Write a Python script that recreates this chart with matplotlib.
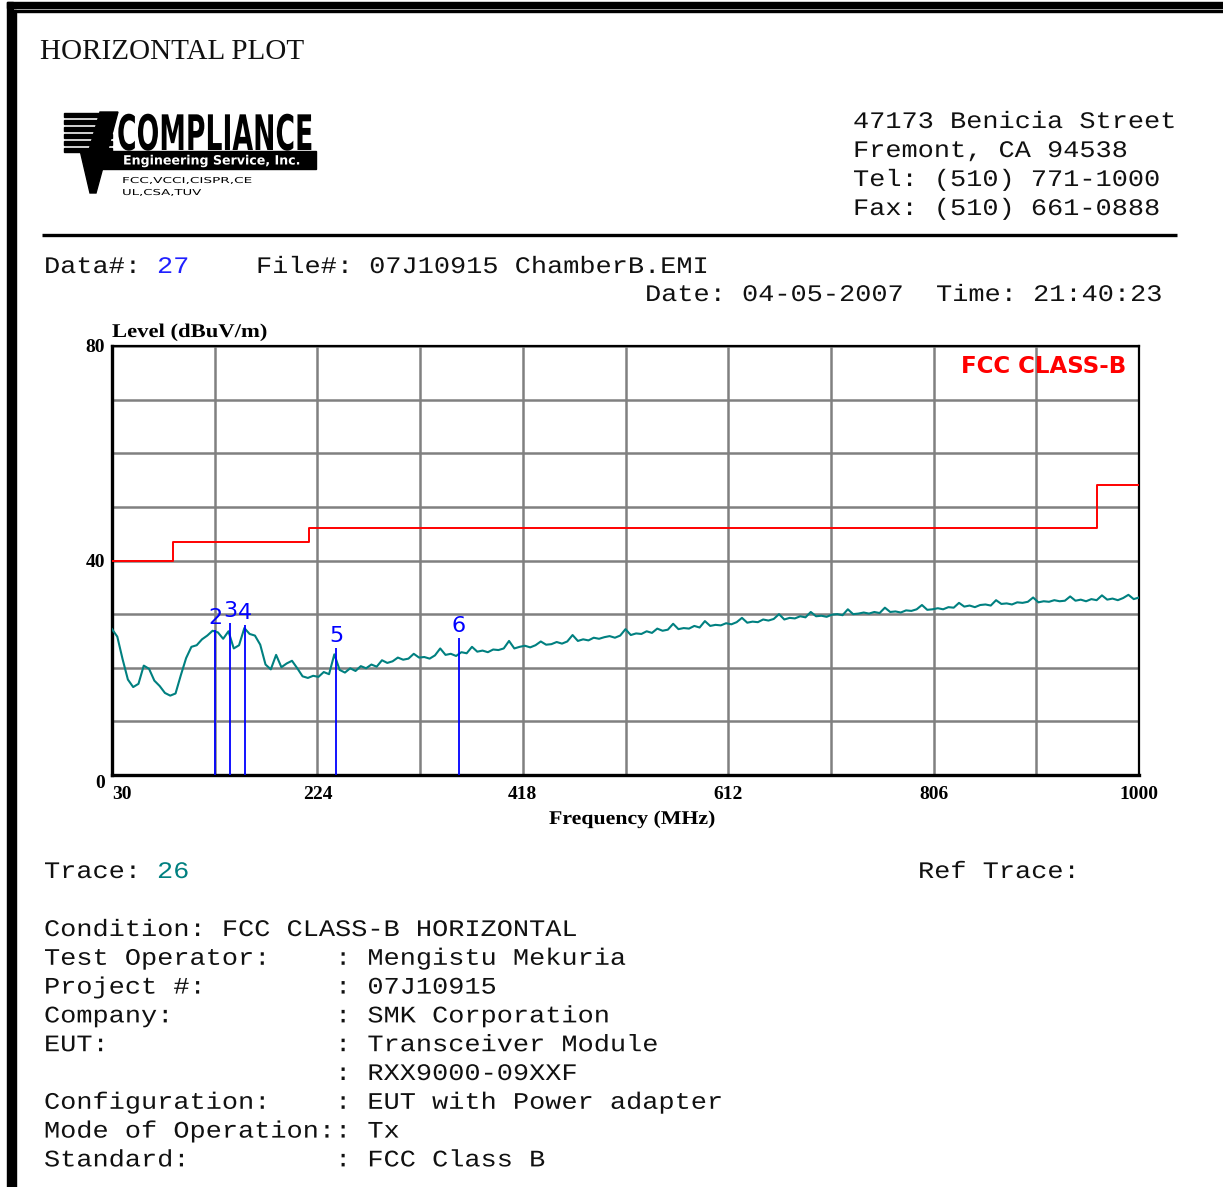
import numpy as np
import matplotlib
matplotlib.use("Agg")
import matplotlib.pyplot as plt
from matplotlib.textpath import TextPath
from matplotlib.font_manager import FontProperties
from matplotlib.patches import Polygon, Rectangle
from matplotlib.patheffects import AbstractPathEffect
from matplotlib.transforms import Affine2D

W, H, DPI = 1223, 1187, 100

# ---------------- data ----------------
freq_start, freq_stop, freq_step = 30, 1000, 5
trace_level = [
    27.2, 25.8, 21.6, 17.8, 16.4, 17.0, 20.4, 19.8, 17.6, 16.6,
    15.3, 14.8, 15.2, 18.6, 21.8, 23.9, 24.2, 25.3, 26.0, 26.9,
    26.6, 25.4, 26.8, 23.6, 24.2, 27.4, 26.3, 26.0, 24.3, 20.6,
    19.7, 22.4, 20.1, 20.8, 21.3, 19.9, 18.4, 18.1, 18.5, 18.3,
    19.2, 18.8, 22.5, 19.6, 19.1, 19.9, 19.4, 20.3, 19.9, 20.6,
    20.2, 21.4, 20.9, 21.2,
    21.9, 21.5, 21.7, 22.6, 21.9, 22.0, 21.7, 22.3, 23.6, 22.4,
    22.6, 22.2, 22.9, 22.7, 23.9, 23.0, 23.2, 22.9, 23.4, 23.3,
    23.6, 25.0, 23.6, 23.9, 24.1, 23.8, 24.2, 24.9, 24.3, 24.4,
    24.8, 24.5, 24.9, 26.1, 25.0, 25.3, 25.1, 25.6, 25.4, 25.7,
    25.9, 25.6, 26.0, 27.2, 26.1, 26.4, 26.3, 26.8, 26.5, 27.3,
    26.9, 27.1, 28.2, 27.2, 27.4, 27.3, 27.8, 27.5, 28.7, 27.8,
    28.0, 27.9, 28.3, 28.1, 28.5, 29.3, 28.4, 28.6, 28.5, 29.0,
    28.8, 29.1, 30.0, 29.0, 29.3, 29.2, 29.6, 29.4, 30.4, 29.6,
    29.7, 29.5, 29.9, 30.0, 29.8, 30.9, 30.0, 30.1, 30.3, 30.1,
    30.4, 30.2, 31.2, 30.4, 30.5, 30.3, 30.7, 30.6, 30.9, 31.7,
    30.8, 30.9, 31.1, 30.9, 31.3, 31.2, 32.1, 31.4, 31.6, 31.3,
    31.7, 31.8, 31.6, 32.6, 31.9, 32.0, 31.8, 32.2, 32.1, 32.3,
    33.1, 32.2, 32.4, 32.3, 32.6, 32.4, 32.5, 33.3, 32.5, 32.7,
    32.4, 32.8, 32.6, 33.5, 32.7, 32.9, 32.6, 33.0, 33.6, 32.8,
    33.1,
]
trace_freq = np.arange(freq_start, freq_stop + 1, freq_step)

limit_freq = [30, 88, 88, 216, 216, 960, 960, 1000]
limit_level = [40, 40, 43.5, 43.5, 46, 46, 54, 54]

marker_labels = ["2", "3", "4", "5", "6"]
marker_freq = [127.3, 141.4, 155.6, 241.6, 357.7]
marker_level = [27.0, 28.3, 28.0, 23.7, 25.5]

x_ticks = [30, 224, 418, 612, 806, 1000]
x_grid = [30, 127, 224, 321, 418, 515, 612, 709, 806, 903, 1000]
y_ticks = [0, 40, 80]
y_grid = [0, 10, 20, 30, 40, 50, 60, 70, 80]

address_lines = ["47173 Benicia Street", "Fremont, CA 94538",
                 "Tel: (510) 771-1000", "Fax: (510) 661-0888"]
info_lines = [
    "Condition: FCC CLASS-B HORIZONTAL",
    "Test Operator:    : Mengistu Mekuria",
    "Project #:        : 07J10915",
    "Company:          : SMK Corporation",
    "EUT:              : Transceiver Module",
    "                  : RXX9000-09XXF",
    "Configuration:    : EUT with Power adapter",
    "Mode of Operation:: Tx",
    "Standard:         : FCC Class B",
]


class Stretch(AbstractPathEffect):
    """Stretch a text about its baseline-left anchor."""
    def __init__(self, sx=1.0, sy=1.0):
        super().__init__()
        self.sx, self.sy = sx, sy

    def draw_path(self, renderer, gc, tpath, affine, rgbFace=None):
        ox, oy = affine.transform(np.array([0.0, 0.0]))
        a = affine + Affine2D().translate(-ox, -oy).scale(self.sx, self.sy).translate(ox, oy)
        renderer.draw_path(gc, tpath, a, rgbFace)


def ink_px(s, size, family, weight):
    tp = TextPath((0, 0), s, size=size, prop=FontProperties(family=family, weight=weight))
    e = tp.get_extents()
    return e.width * DPI / 72.0, e.height * DPI / 72.0


def fit_stretch(s, size, family, weight, w_px=None, h_px=None):
    w, h = ink_px(s, size, family, weight)
    sx = w_px / w if w_px else 1.0
    sy = h_px / h if h_px else 1.0
    return Stretch(sx, sy)


MONO = "Liberation Mono"
MS = 19.4
MONO_FX = [Stretch(1.0, 0.88)]
TXT = "#111111"

fig = plt.figure(figsize=(W / DPI, H / DPI), dpi=DPI)
fig.patch.set_facecolor("white")

# ---------------- chart ----------------
ax = fig.add_axes([112 / W, 1 - 775 / H, 1027 / W, 429 / H])
ax.set_xlim(30, 1000)
ax.set_ylim(0, 80)
ax.set_xticks(x_ticks)
ax.set_xticklabels([str(v) for v in x_ticks])
ax.set_xticks(x_grid, minor=True)
ax.set_yticks(y_ticks)
ax.set_yticklabels([str(v) for v in y_ticks])
ax.set_yticks(y_grid, minor=True)
ax.grid(which="both", color="#808080", lw=1.8)
ax.set_axisbelow(True)
ax.tick_params(which="both", length=0)
ax.tick_params(axis="x", pad=8)
ax.tick_params(axis="y", pad=5)
for lbl in ax.get_xticklabels() + ax.get_yticklabels():
    lbl.set_fontfamily("Liberation Serif")
    lbl.set_fontweight("bold")
    lbl.set_fontsize(14)
ax.get_xticklabels()[0].set_horizontalalignment("left")
ax.get_yticklabels()[0].set_verticalalignment("top")
for side, lw in [("left", 2.4), ("bottom", 2.4), ("top", 1.6), ("right", 1.6)]:
    ax.spines[side].set_linewidth(lw)
    ax.spines[side].set_color("black")

ax.plot(limit_freq, limit_level, color="#ff0000", lw=1.4, zorder=3)
ax.plot(trace_freq, trace_level, color="#008080", lw=1.5, zorder=4)
ax.vlines(marker_freq, 0, marker_level, colors="#0000ff", lw=1.3, zorder=5)
for lab, f, lv in zip(marker_labels, marker_freq, marker_level):
    ax.annotate(lab, xy=(f, lv), xytext=(0, 1.5), textcoords="offset points",
                ha="center", va="bottom", color="#0000ff", fontsize=16,
                family="DejaVu Sans", zorder=6)
ax.text(0.988, 0.953, "FCC CLASS-B", transform=ax.transAxes, ha="right", va="center",
        color="#ff0000", fontsize=16.5, fontweight="bold", family="DejaVu Sans")

# ---------------- page overlay (pixel coordinates) ----------------
ov = fig.add_axes([0, 0, 1, 1], zorder=-1)
ov.set_xlim(0, W)
ov.set_ylim(H, 0)
ov.axis("off")

# borders
ov.add_patch(Rectangle((7, 2), W - 7, 6, color="black"))
ov.add_patch(Rectangle((14, 10), W - 14, 2.2, color="black"))
ov.add_patch(Rectangle((7, 2), 6, H, color="black"))
ov.add_patch(Rectangle((14, 10), 2.2, H, color="black"))

ov.text(40, 59, "HORIZONTAL PLOT", family="Liberation Serif", fontsize=21,
        ha="left", va="baseline", color=TXT)

# logo
for y in [113, 120, 127, 134, 141, 148]:
    ov.add_patch(Rectangle((64, y), 48, 4, color="black"))
ov.add_patch(Polygon([(100, 112), (118, 112), (96, 193), (90, 193), (80, 150), (89, 150)],
                     closed=True, color="black"))
ov.add_patch(Rectangle((100, 151), 216, 18, color="black"))
s = "COMPLIANCE"
fs = 15
ov.text(117, 150, s, family="DejaVu Sans", fontweight="bold", fontsize=fs, ha="left",
        va="baseline", color="black",
        path_effects=[fit_stretch(s, fs, "DejaVu Sans", "bold", 193, 37)])
s = "Engineering Service, Inc."
fs = 6
ov.text(123, 164.5, s, family="DejaVu Sans", fontweight="bold", fontsize=fs, ha="left",
        va="baseline", color="white",
        path_effects=[fit_stretch(s, fs, "DejaVu Sans", "bold", 175, 12.5)])
s = "FCC,VCCI,CISPR,CE"
fs = 5.5
ov.text(122, 183, s, family="DejaVu Sans", fontsize=fs, ha="left", va="baseline",
        color="black", path_effects=[fit_stretch(s, fs, "DejaVu Sans", "normal", 128, 7)])
s = "UL,CSA,TUV"
ov.text(122, 195, s, family="DejaVu Sans", fontsize=fs, ha="left", va="baseline",
        color="black", path_effects=[fit_stretch(s, fs, "DejaVu Sans", "normal", 78, 7)])

# address
for i, line in enumerate(address_lines):
    ov.text(853, 128 + 29 * i, line, family=MONO, fontsize=MS, ha="left", va="baseline",
            color=TXT, path_effects=MONO_FX)
ov.plot([42, 1177], [235, 235], color="black", lw=2.4, solid_capstyle="butt")

# header data
ov.text(44, 273, "Data#: ", family=MONO, fontsize=MS, va="baseline", color=TXT,
        path_effects=MONO_FX)
ov.text(157, 273, "27", family=MONO, fontsize=MS, va="baseline", color="#2020ff",
        path_effects=MONO_FX)
ov.text(256, 273, "File#: 07J10915 ChamberB.EMI", family=MONO, fontsize=MS,
        va="baseline", color=TXT, path_effects=MONO_FX)
ov.text(645, 301, "Date: 04-05-2007  Time: 21:40:23", family=MONO, fontsize=MS,
        va="baseline", color=TXT, path_effects=MONO_FX)

# axis titles
s = "Level (dBuV/m)"
ov.text(112, 337, s, family="Liberation Serif", fontweight="bold",
        fontsize=14, ha="left", va="baseline", color="black",
        path_effects=[fit_stretch(s, 14, "Liberation Serif", "bold", 154)])
s = "Frequency (MHz)"
ov.text(549, 824, s, family="Liberation Serif", fontweight="bold",
        fontsize=14, ha="left", va="baseline", color="black",
        path_effects=[fit_stretch(s, 14, "Liberation Serif", "bold", 165)])

# trace line
ov.text(44, 878, "Trace: ", family=MONO, fontsize=MS, va="baseline", color=TXT,
        path_effects=MONO_FX)
ov.text(157, 878, "26", family=MONO, fontsize=MS, va="baseline", color="#008080",
        path_effects=MONO_FX)
ov.text(918, 878, "Ref Trace:", family=MONO, fontsize=MS, va="baseline", color=TXT,
        path_effects=MONO_FX)

for i, line in enumerate(info_lines):
    ov.text(44, 936 + 28.8 * i, line, family=MONO, fontsize=MS, va="baseline",
            color=TXT, path_effects=MONO_FX)

fig.savefig("out.png", dpi=DPI, facecolor="white")
